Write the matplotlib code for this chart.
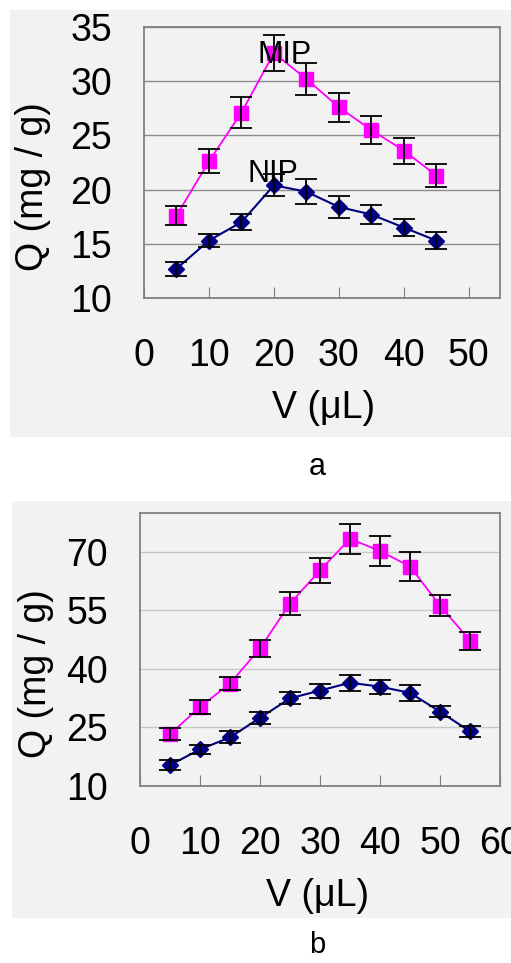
import matplotlib.pyplot as plt
from matplotlib.patches import Rectangle

plt.rcParams['font.family'] = ['Liberation Sans', 'DejaVu Sans']

# ---- panel a data ----
v_a = [5, 10, 15, 20, 25, 30, 35, 40, 45]
mip_a = [17.6, 22.6, 27.1, 32.6, 30.2, 27.6, 25.5, 23.6, 21.3]
mip_a_err = [0.9, 1.1, 1.45, 1.65, 1.5, 1.35, 1.25, 1.2, 1.1]
nip_a = [12.7, 15.3, 17.0, 20.4, 19.8, 18.4, 17.7, 16.5, 15.3]
nip_a_err = [0.65, 0.6, 0.75, 1.0, 1.15, 1.0, 0.9, 0.75, 0.75]

# ---- panel b data ----
v_b = [5, 10, 15, 20, 25, 30, 35, 40, 45, 50, 55]
mip_b = [23.2, 30.2, 36.2, 45.2, 56.7, 65.2, 73.3, 70.2, 66.2, 56.2, 47.2]
mip_b_err = [1.6, 1.7, 1.6, 2.2, 2.9, 3.3, 3.8, 3.8, 3.6, 2.8, 2.3]
nip_b = [15.3, 19.3, 22.4, 27.4, 32.4, 34.4, 36.4, 35.4, 33.8, 29.0, 23.9]
nip_b_err = [1.2, 1.2, 1.5, 1.6, 1.5, 1.8, 2.1, 1.8, 2.1, 1.5, 1.4]

bg = '#f2f2f2'
W, H = 511, 963
fig = plt.figure(figsize=(W / 100, H / 100), dpi=100)
fig.patch.set_facecolor('white')

# grey panels behind each chart
fig.patches.append(Rectangle((10 / W, 1 - 437 / H), 501 / W, 427 / H,
                             transform=fig.transFigure, facecolor=bg, edgecolor='none', zorder=-1))
fig.patches.append(Rectangle((12 / W, 1 - 918 / H), 499 / W, 417 / H,
                             transform=fig.transFigure, facecolor=bg, edgecolor='none', zorder=-1))


def draw(ax, v, mip, mip_err, nip, nip_err, grid_color):
    ax.set_facecolor(bg)
    ax.plot(v, mip, color='#ff00ff', lw=1.3, marker='s', ms=9.5, zorder=3)
    ax.plot(v, nip, color='#000080', lw=1.5, marker='D', ms=8, zorder=3)
    ax.errorbar(v, mip, yerr=mip_err, fmt='none', ecolor='black', elinewidth=1.3,
                capsize=8, capthick=1.3, zorder=4)
    ax.errorbar(v, nip, yerr=nip_err, fmt='none', ecolor='black', elinewidth=1.3,
                capsize=8, capthick=1.3, zorder=4)
    ax.yaxis.grid(True, color=grid_color, lw=1)
    ax.set_axisbelow(True)
    for s in ax.spines.values():
        s.set_color('#808080')
        s.set_linewidth(1.3)
    ax.tick_params(axis='x', direction='in', length=8, color='#808080', pad=29, labelsize=27)
    ax.tick_params(axis='y', length=0, pad=23, labelsize=27)
    ax.set_xlabel('V (μL)', fontsize=27)
    ax.set_ylabel('Q (mg / g)', fontsize=27)
    ax.xaxis.label.set_verticalalignment('center')
    ax.yaxis.label.set_verticalalignment('center')


# a
ax1 = fig.add_axes([144 / W, 1 - 298 / H, 356 / W, 271 / H])
draw(ax1, v_a, mip_a, mip_a_err, nip_a, nip_a_err, '#8c8c8c')
ax1.set_xlim(0, 54.8)
ax1.set_ylim(10, 35)
ax1.set_xticks([0, 10, 20, 30, 40, 50])
ax1.set_yticks([10, 15, 20, 25, 30, 35])
ax1.text(21.7, 32.4, 'MIP', fontsize=22, ha='center', va='center', zorder=5)
ax1.text(19.9, 21.4, 'NIP', fontsize=22, ha='center', va='center', zorder=5)
ax1.xaxis.set_label_coords(0.503, -0.405)
ax1.yaxis.set_label_coords(-0.313, 0.41)
fig.text(317 / W, 1 - 467 / H, 'a', fontsize=22, ha='center', va='center')

# b
ax2 = fig.add_axes([140 / W, 1 - 785.7 / H, 360 / W, 273 / H])
draw(ax2, v_b, mip_b, mip_b_err, nip_b, nip_b_err, '#c8c8c8')
ax2.set_xlim(0, 60)
ax2.set_ylim(10, 80)
ax2.set_xticks([0, 10, 20, 30, 40, 50, 60])
ax2.set_yticks([10, 25, 40, 55, 70])
ax2.xaxis.set_label_coords(0.494, -0.405)
ax2.yaxis.set_label_coords(-0.29, 0.41)
fig.text(317 / W, 1 - 945 / H, 'b', fontsize=21, ha='center', va='center')

fig.savefig('out.png', dpi=100, facecolor='white')
